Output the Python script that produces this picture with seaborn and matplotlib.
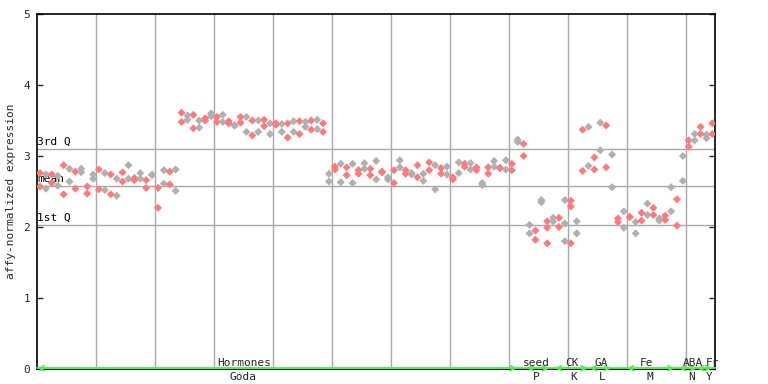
import matplotlib
matplotlib.use("Agg")
import matplotlib.pyplot as plt
import seaborn as sns
import numpy as np
import pandas as pd

# ---------------- data ----------------
# two replicate values per sample column (upper / lower point)
upper = [2.76, 2.74, 2.74, 2.72, 2.87, 2.82, 2.78, 2.82, 2.57, 2.74,
         2.81, 2.76, 2.74, 2.68, 2.77, 2.87, 2.69, 2.76, 2.66, 2.74,
         2.55, 2.80, 2.78, 2.81,
         3.61, 3.57, 3.58, 3.50, 3.53, 3.60, 3.55, 3.58, 3.49, 3.43,
         3.55, 3.55, 3.50, 3.50, 3.51, 3.46, 3.46, 3.45, 3.46, 3.49,
         3.49, 3.48, 3.50, 3.51, 3.46,
         2.75, 2.85, 2.89, 2.84, 2.89, 2.80, 2.90, 2.82, 2.93, 2.78,
         2.70, 2.80, 2.94, 2.80, 2.76, 2.87, 2.75, 2.91, 2.87, 2.83,
         2.85, 2.70, 2.91, 2.89, 2.90, 2.84, 2.62, 2.84, 2.93, 2.83,
         2.94, 2.89,
         3.23, 3.17,
         2.03, 1.95, 2.38, 2.08,
         2.13, 2.13, 2.38, 2.37, 2.08,
         3.37, 3.41, 2.98, 3.47, 3.43, 3.02,
         2.12, 2.22, 2.14, 2.07, 2.20, 2.33, 2.27, 2.12, 2.16, 2.56, 2.39,
         3.00, 3.22, 3.31,
         3.41, 3.30, 3.46]
lower = [2.57, 2.54, 2.62, 2.58, 2.46, 2.64, 2.54, 2.77, 2.47, 2.68,
         2.53, 2.52, 2.46, 2.44, 2.64, 2.68, 2.66, 2.68, 2.55, 2.73,
         2.27, 2.61, 2.60, 2.51,
         3.48, 3.51, 3.39, 3.40, 3.50, 3.56, 3.48, 3.48, 3.46, 3.43,
         3.47, 3.34, 3.29, 3.34, 3.42, 3.31, 3.44, 3.34, 3.26, 3.34,
         3.31, 3.41, 3.37, 3.38, 3.34,
         2.64, 2.81, 2.63, 2.73, 2.62, 2.75, 2.82, 2.73, 2.67, 2.77,
         2.67, 2.62, 2.84, 2.75, 2.74, 2.70, 2.65, 2.80, 2.53, 2.75,
         2.74, 2.67, 2.76, 2.85, 2.81, 2.80, 2.59, 2.75, 2.85, 2.83,
         2.81, 2.80,
         3.20, 3.00,
         1.91, 1.82, 2.35, 1.77,
         2.08, 2.00, 2.05, 2.29, 1.91,
         2.79, 2.86, 2.81, 3.08, 2.84, 2.56,
         2.07, 1.99, 2.14, 1.91, 2.09, 2.17, 2.17, 2.09, 2.10, 2.22, 2.02,
         2.65, 3.13, 3.22,
         3.31, 3.25, 3.31]
extra_cols = [86, 89, 90]
extra_vals = [1.99, 1.80, 1.77]

q3_value = 3.10
mean_value = 2.58
q1_value = 2.035

# experiment groups
group_top = ["Hormones", "seed", "CK", "GA", "Fe", "ABA", "Fr"]
group_bottom = ["Goda", "P", "K", "L", "M", "N", "Y"]
group_start = [-0.46, 82.5, 87.3, 93.2, 99.5, 108.3, 111.4]
group_end = [80.9, 86.4, 92.9, 96.9, 107.6, 111.4, 114.0]
top_label_x = [34.7, 84.2, 90.2, 95.1, 102.9, 110.7, 114.1]
bottom_label_x = [34.4, 84.2, 90.5, 95.3, 103.4, 110.5, 113.4]

y_ticks = [0, 1, 2, 3, 4, 5]

# ---------------- build table ----------------
n = len(upper)
cols = list(range(n))
df = pd.DataFrame({
    "col": cols * 2 + extra_cols,
    "value": upper + lower + extra_vals,
})
df["kind"] = np.where(df["col"] % 2 == 0, "a", "b")

# ---------------- figure ----------------
sns.set_style("white")
plt.rcParams["font.family"] = ["DejaVu Sans Mono", "DejaVu Sans"]

W, H = 768, 384
fig = plt.figure(figsize=(W / 100, H / 100), dpi=100)
left_px, right_px, top_px, bot_px = 37.3, 715.0, 14.0, 369.0
ax = fig.add_axes([left_px / W, (H - bot_px) / H,
                   (right_px - left_px) / W, (bot_px - top_px) / H])

xmin, xmax = -0.46, 114.45
ax.set_xlim(xmin, xmax)
ax.set_ylim(0, 5)

grid_c = "#a8a8a8"
for k in range(1, 12):
    ax.axvline(xmin + 10 * k, color=grid_c, lw=1.0, zorder=1)
for v, lab in [(q3_value, "3rd Q"), (mean_value, "mean"), (q1_value, "1st Q")]:
    ax.axhline(v, color=grid_c, lw=1.0, zorder=1)
    ax.text(xmin, v + 0.03, lab, ha="left", va="bottom", fontsize=8,
            color="black", zorder=3)

sns.scatterplot(data=df, x="col", y="value", hue="kind",
                palette={"a": "#ff7a7a", "b": "#b0b0b0"},
                marker="D", s=17, linewidth=0, legend=False, ax=ax, zorder=4)

for sp in ax.spines.values():
    sp.set_color("black")
    sp.set_linewidth(1.2)
ax.set_xticks([])
ax.set_yticks(y_ticks)
ax.set_yticklabels([str(t) for t in y_ticks], fontsize=8)
ax.tick_params(axis="y", direction="in", length=4.5, width=1,
               left=True, right=True, labelleft=True, labelright=False, pad=5)
ax.set_xlabel("")
ax.set_ylabel("affy-normalized expression", fontsize=8)
ax.yaxis.set_label_coords(-0.031, 0.5)

green = "#55ee55"
ax.plot([xmin, xmax], [0.012, 0.012], color=green, lw=1.3, zorder=5,
        clip_on=False)
for s0, e0 in zip(group_start, group_end):
    ax.annotate("", xy=(s0, 0.012), xytext=(e0, 0.012),
                arrowprops=dict(arrowstyle="<->", color=green, lw=1.2,
                                shrinkA=0, shrinkB=0, mutation_scale=9),
                annotation_clip=False, zorder=6)
xt = ax.get_xaxis_transform()
for lab, x in zip(group_top, top_label_x):
    ax.text(x, 0.018, lab, transform=xt, ha="center", va="center",
            fontsize=8, clip_on=False, zorder=7)
for lab, x in zip(group_bottom, bottom_label_x):
    ax.text(x, -0.022, lab, transform=xt, ha="center", va="center",
            fontsize=8, clip_on=False, zorder=7)

fig.savefig("out.png", dpi=100)
